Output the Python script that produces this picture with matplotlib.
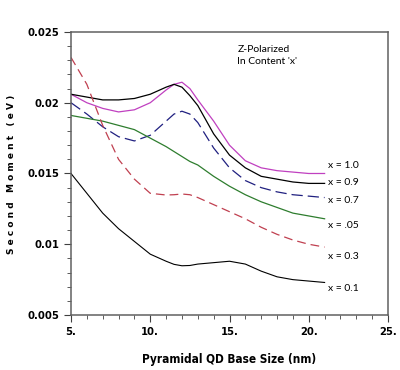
import matplotlib
matplotlib.use('Agg')
import matplotlib.pyplot as plt
from matplotlib.ticker import MultipleLocator

# Second moment vs base size
size = [5, 6, 7, 8, 9, 10, 11, 11.5, 12, 12.5, 13, 14, 15, 16, 17, 18, 19, 20, 21]

m_x10 = [0.0206, 0.0200, 0.0196, 0.01935, 0.0195, 0.0200, 0.0209, 0.0213, 0.02145, 0.0210,
         0.0202, 0.0187, 0.0170, 0.0159, 0.0154, 0.0152, 0.0151, 0.0150, 0.0150]
m_x09 = [0.0206, 0.0204, 0.0202, 0.0202, 0.0203, 0.0206, 0.0211, 0.0213, 0.0211, 0.0205,
         0.0198, 0.0178, 0.0163, 0.0154, 0.0148, 0.0146, 0.0144, 0.0143, 0.0143]
m_x07 = [0.0200, 0.0192, 0.0183, 0.0176, 0.0173, 0.0177, 0.0187, 0.0192, 0.0194, 0.0192,
         0.0186, 0.0168, 0.0154, 0.0145, 0.0140, 0.0137, 0.0135, 0.0134, 0.0133]
m_x005 = [0.0191, 0.0189, 0.0187, 0.0184, 0.0181, 0.0175, 0.0169, 0.01655, 0.0162, 0.01585,
          0.0156, 0.0148, 0.0141, 0.0135, 0.0130, 0.0126, 0.0122, 0.0120, 0.0118]
m_x03 = [0.0232, 0.0213, 0.0184, 0.0160, 0.0146, 0.0136, 0.01348, 0.0135, 0.01355, 0.0135,
         0.0133, 0.0128, 0.0123, 0.0118, 0.0112, 0.0107, 0.0103, 0.0100, 0.0098]
m_x01 = [0.0150, 0.0136, 0.0122, 0.0111, 0.0102, 0.0093, 0.0088, 0.00858, 0.00848, 0.0085,
         0.0086, 0.0087, 0.0088, 0.0086, 0.0081, 0.0077, 0.0075, 0.0074, 0.0073]

curve_labels = ['x = 1.0', 'x = 0.9', 'x = 0.7', 'x = .05', 'x = 0.3', 'x = 0.1']
label_y = [0.01553, 0.01433, 0.01306, 0.01136, 0.00917, 0.00684]

narrow = ['DejaVu Sans']
plain = ['Lato', 'DejaVu Sans']

fig = plt.figure(figsize=(4, 3.7), dpi=100)
ax = fig.add_axes([0.1775, 0.1486, 0.7925, 0.765])

ax.plot(size, m_x10, color='#c040c0', lw=0.9)
ax.plot(size, m_x09, color='black', lw=0.9)
ax.plot(size, m_x07, color='#202080', lw=0.9, dashes=(9, 4))
ax.plot(size, m_x005, color='#2e7d2e', lw=0.9)
ax.plot(size, m_x03, color='#c04050', lw=0.9, dashes=(7, 4))
ax.plot(size, m_x01, color='black', lw=0.8)

for lab, yy in zip(curve_labels, label_y):
    ax.text(21.2, yy, lab, fontsize=7.5, family=plain, va='center', ha='left')

ax.text(15.5, 0.0241, 'Z-Polarized\nIn Content \'x\'', fontsize=7.5, family=plain,
        va='top', ha='left', linespacing=1.4)

ax.set_xlim(5, 25)
ax.set_ylim(0.005, 0.025)
ax.xaxis.set_minor_locator(MultipleLocator(1))
ax.yaxis.set_minor_locator(MultipleLocator(0.001))
ax.set_xticks([5, 10, 15, 20, 25])
ax.set_xticklabels(['5.', '10.', '15.', '20.', '25.'])
ax.set_yticks([0.005, 0.01, 0.015, 0.02, 0.025])
ax.set_yticklabels(['0.005', '0.01', '0.015', '0.02', '0.025'])
ax.tick_params(which='major', direction='out', length=5, width=0.8, color='#404040')
ax.tick_params(which='minor', direction='out', length=3, width=0.6, color='#404040')
for t in ax.get_xticklabels() + ax.get_yticklabels():
    t.set_family(narrow)
    t.set_fontweight('bold')
    t.set_fontstretch('condensed')
    t.set_fontsize(8)

for sp in ax.spines.values():
    sp.set_color('#606060')
    sp.set_linewidth(1.1)

ax.set_xlabel('Pyramidal QD Base Size (nm)', family=narrow, fontweight='bold',
              fontstretch='condensed', fontsize=8.5, labelpad=12)
fig.text(0.03, 0.53, 'S e c o n d   M o m e n t   ( e V )', rotation=90,
         fontsize=6.5, fontweight='bold', va='center', ha='center')

fig.savefig('out.png', dpi=100, facecolor='white')
